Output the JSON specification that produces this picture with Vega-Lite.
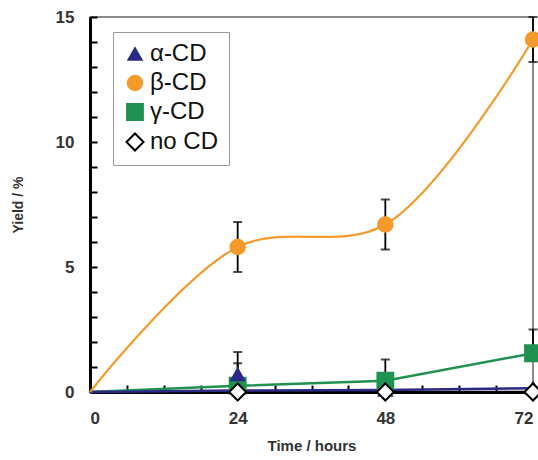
{
  "$schema": "https://vega.github.io/schema/vega-lite/v6.json",
  "autosize": "none",
  "width": 443,
  "height": 375,
  "padding": {"left": 90, "top": 17, "right": 5, "bottom": 68},
  "background": "white",
  "config": {
    "view": {"stroke": "#666666", "strokeWidth": 1.5},
    "font": "Liberation Sans",
    "axis": {"domainColor": "black", "domainWidth": 3, "tickColor": "black", "tickWidth": 2, "grid": false, "labelColor": "#333333", "titleColor": "#333333", "labelFont": "Liberation Sans", "titleFont": "Liberation Sans", "labelOverlap": false, "tickCount": 100, "format": "d"}
  },
  "datasets": {
    "pts": [
      {"series": "β-CD", "time": 0, "y": 0},
      {"series": "β-CD", "time": 24, "y": 5.8},
      {"series": "β-CD", "time": 48, "y": 6.7},
      {"series": "β-CD", "time": 72, "y": 14.1},
      {"series": "γ-CD", "time": 0, "y": 0},
      {"series": "γ-CD", "time": 24, "y": 0.25},
      {"series": "γ-CD", "time": 48, "y": 0.45},
      {"series": "γ-CD", "time": 72, "y": 1.55},
      {"series": "α-CD", "time": 0, "y": 0},
      {"series": "α-CD", "time": 24, "y": 0.7},
      {"series": "α-CD", "time": 48, "y": 0.08},
      {"series": "α-CD", "time": 72, "y": 0.15},
      {"series": "no CD", "time": 0, "y": 0},
      {"series": "no CD", "time": 24, "y": 0},
      {"series": "no CD", "time": 48, "y": 0},
      {"series": "no CD", "time": 72, "y": 0}
    ],
    "alphaline": [
      {"time": 0, "y": 0},
      {"time": 24, "y": 0.06},
      {"time": 48, "y": 0.08},
      {"time": 72, "y": 0.15}
    ],
    "err": [
      {"series": "β-CD", "time": 24, "lo": 4.8, "hi": 6.8},
      {"series": "β-CD", "time": 48, "lo": 5.7, "hi": 7.7},
      {"series": "β-CD", "time": 72, "lo": 13.2, "hi": 15},
      {"series": "α-CD", "time": 24, "lo": 0.7, "hi": 1.6},
      {"series": "γ-CD", "time": 24, "lo": 0.25, "hi": 1.15},
      {"series": "γ-CD", "time": 48, "lo": 0.45, "hi": 1.3},
      {"series": "γ-CD", "time": 72, "lo": 1.55, "hi": 2.5}
    ]
  },
  "layer": [
    {
      "data": {"name": "pts"},
      "transform": [{"filter": "datum.series === 'no CD'"}],
      "mark": {"type": "line", "strokeWidth": 2.5, "color": "#000000"},
      "encoding": {
        "x": {"field": "time", "type": "quantitative", "scale": {"domain": [0, 72], "nice": false},
              "axis": {"orient": "bottom", "values": [0, 6, 12, 18, 24, 30, 36, 42, 48, 54, 60, 66, 72],
                       "tickSize": -7,
                       "labelExpr": "datum.value % 24 === 0 ? datum.label : ''",
                       "labelPadding": 25, "labelFontSize": 17, "labelFontWeight": "bold",
                       "title": "Time / hours", "titleFontSize": 15, "titleFontWeight": "bold", "titlePadding": 12}},
        "y": {"field": "y", "type": "quantitative", "scale": {"domain": [0, 15], "nice": false},
              "axis": {"orient": "left", "values": [0, 1, 2, 3, 4, 5, 6, 7, 8, 9, 10, 11, 12, 13, 14, 15],
                       "tickSize": -7,
                       "labelExpr": "datum.value % 5 === 0 ? datum.label : ''",
                       "labelPadding": 23, "labelFontSize": 17, "labelFontWeight": "bold",
                       "title": "Yield / %", "titleFontSize": 14, "titleFontWeight": "bold", "titlePadding": 30}}
      }
    },
    {
      "data": {"name": "pts"},
      "transform": [{"filter": "datum.series === 'γ-CD'"}],
      "mark": {"type": "line", "strokeWidth": 2.5, "color": "#1f9150"},
      "encoding": {
        "x": {"field": "time", "type": "quantitative"},
        "y": {"field": "y", "type": "quantitative"}
      }
    },
    {
      "data": {"name": "alphaline"},
      "mark": {"type": "line", "strokeWidth": 2.5, "color": "#2a2a86"},
      "encoding": {
        "x": {"field": "time", "type": "quantitative"},
        "y": {"field": "y", "type": "quantitative"}
      }
    },
    {
      "data": {"name": "pts"},
      "transform": [{"filter": "datum.series === 'β-CD'"}],
      "mark": {"type": "line", "strokeWidth": 2.2, "interpolate": "catmull-rom", "color": "#f39a2b"},
      "encoding": {
        "x": {"field": "time", "type": "quantitative"},
        "y": {"field": "y", "type": "quantitative"}
      }
    },
    {
      "data": {"name": "err"},
      "mark": {"type": "rule", "color": "black", "strokeWidth": 1.8},
      "encoding": {
        "x": {"field": "time", "type": "quantitative"},
        "y": {"field": "lo", "type": "quantitative"},
        "y2": {"field": "hi"}
      }
    },
    {
      "data": {"name": "err"},
      "mark": {"type": "tick", "color": "black", "orient": "horizontal", "size": 9, "thickness": 2},
      "encoding": {
        "x": {"field": "time", "type": "quantitative"},
        "y": {"field": "hi", "type": "quantitative"}
      }
    },
    {
      "data": {"name": "err"},
      "transform": [{"filter": "datum.series === 'β-CD'"}],
      "mark": {"type": "tick", "color": "black", "orient": "horizontal", "size": 9, "thickness": 2},
      "encoding": {
        "x": {"field": "time", "type": "quantitative"},
        "y": {"field": "lo", "type": "quantitative"}
      }
    },
    {
      "data": {"name": "pts"},
      "transform": [{"filter": "datum.time > 0"}],
      "mark": {"type": "point", "filled": false, "strokeWidth": 2, "opacity": 1},
      "encoding": {
        "x": {"field": "time", "type": "quantitative"},
        "y": {"field": "y", "type": "quantitative"},
        "shape": {"field": "series", "type": "nominal",
                  "scale": {"domain": ["α-CD", "β-CD", "γ-CD", "no CD"], "range": ["triangle-up", "circle", "square", "diamond"]},
                  "legend": {"title": null, "orient": "none", "legendX": 23, "legendY": 15, "strokeColor": "#999999", "fillColor": "white", "padding": 10, "labelFontSize": 24, "labelColor": "#111111", "labelFont": "Liberation Sans", "rowPadding": 5, "symbolStrokeWidth": 2, "labelOffset": 3}},
        "fill": {"field": "series", "type": "nominal",
                 "scale": {"domain": ["α-CD", "β-CD", "γ-CD", "no CD"], "range": ["#2a2a86", "#f39a2b", "#1f9150", "#ffffff"]}},
        "color": {"field": "series", "type": "nominal",
                  "scale": {"domain": ["α-CD", "β-CD", "γ-CD", "no CD"], "range": ["#2a2a86", "#f39a2b", "#1f9150", "#000000"]}},
        "size": {"field": "series", "type": "nominal",
                 "scale": {"domain": ["α-CD", "β-CD", "γ-CD", "no CD"], "range": [170, 290, 230, 150]}}
      }
    }
  ]
}
